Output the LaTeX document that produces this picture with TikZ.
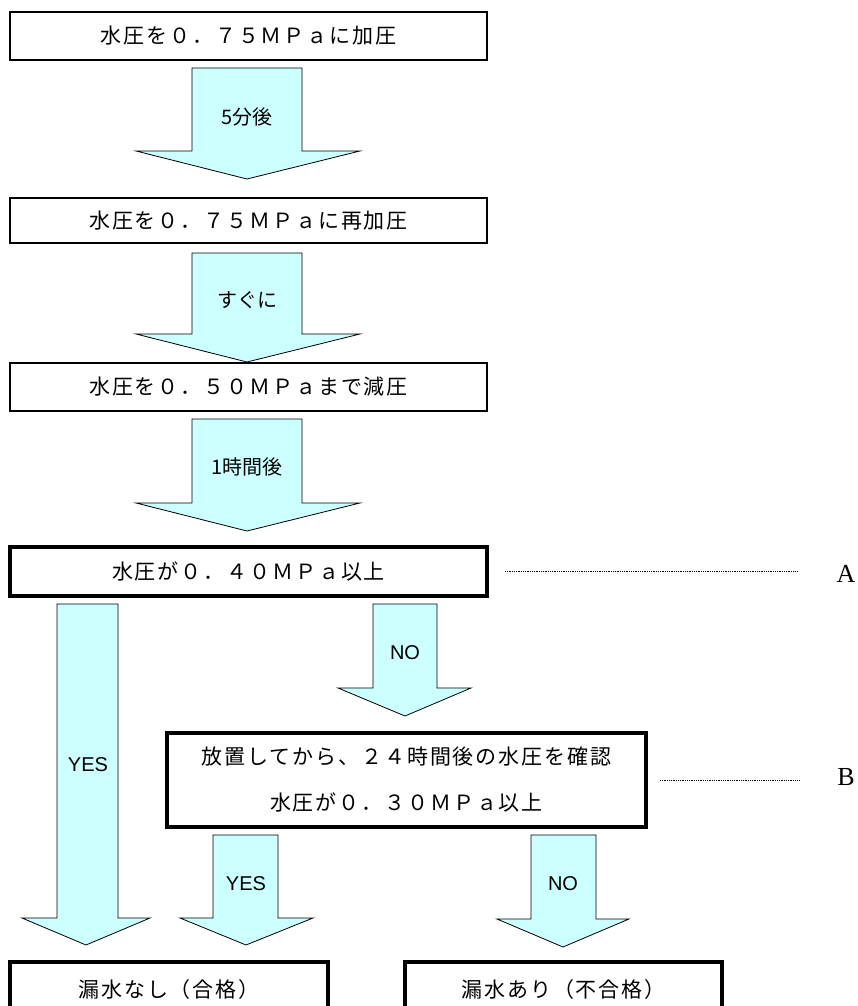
\documentclass[tikz,border=0pt]{standalone}
\usepackage{fontspec}
\newfontfamily\jpfont[LetterSpace=9]{Noto Sans CJK JP}
\newfontfamily\jplabel{Noto Sans CJK JP}
\newfontfamily\arialfont{Liberation Sans}
\newfontfamily\seriffont{Liberation Serif}
\definecolor{arrowfill}{HTML}{CCFFFF}

\begin{document}
\begin{tikzpicture}
        [x=1pt, y=-1pt,
        box/.style={draw, line width=1.5pt, fill=white, inner sep=0pt, font=\jpfont\fontsize{21}{22}\selectfont},
        bold box/.style={box, line width=4pt},
        blockarrow/.style={draw=black, line width=0.8pt, fill=arrowfill, line join=miter},
        arrowtext/.style={font=\jplabel\fontsize{20}{20}\selectfont},
        yesno/.style={font=\arialfont\fontsize{20}{20}\selectfont},
        leader/.style={densely dotted, line width=0.8pt},
        mark label/.style={font=\seriffont\fontsize{26}{26}\selectfont}]

        \clip (0,0) rectangle (858,1006);

        % steps
        \node[box, minimum width=477pt, minimum height=48pt] (press) at (248.5,36) {水圧を０．７５ＭＰａに加圧};
        \node[box, minimum width=477pt, minimum height=45pt] (repress) at (248.5,220.5) {水圧を０．７５ＭＰａに再加圧};
        \node[box, minimum width=477pt, minimum height=48pt] (reduce) at (248.5,387) {水圧を０．５０ＭＰａまで減圧};

        % checks
        \node[bold box, minimum width=477pt, minimum height=49pt] (checkA) at (248.5,571.5) {水圧が０．４０ＭＰａ以上};
        \node[bold box, minimum width=479pt, minimum height=94pt, align=center,
              font=\jpfont\fontsize{21}{46}\selectfont] (checkB) at (406.5,780)
              {放置してから、２４時間後の水圧を確認\\水圧が０．３０ＭＰａ以上};

        % results
        \node[bold box, minimum width=318pt, minimum height=56pt] (pass) at (169,990) {漏水なし（合格）};
        \node[bold box, minimum width=317pt, minimum height=56pt] (fail) at (563.5,990) {漏水あり（不合格）};

        % markers
        \node[mark label] (labA) at (846,574) {A};
        \node[mark label] (labB) at (846,777) {B};
        \draw[leader] ([xshift=16pt]checkA.east) -- ([xshift=-35pt]labA.west |- checkA.east);
        \draw[leader] ([xshift=12pt]checkB.east) -- ([xshift=-35pt]labB.west |- checkB.east);

        % block arrows
        \draw[blockarrow] (192,68) -- (302,68) -- (302,151) -- (360,151) -- (247,179) -- (136,151) -- (192,151) -- cycle;
        \draw[blockarrow] (192,253) -- (302,253) -- (302,334) -- (360,334) -- (247,362) -- (136,334) -- (192,334) -- cycle;
        \draw[blockarrow] (192,419) -- (302,419) -- (302,503) -- (360,503) -- (247,531) -- (136,503) -- (192,503) -- cycle;
        \draw[blockarrow] (57,604) -- (118,604) -- (118,918) -- (150,918) -- (86,945) -- (22,918) -- (57,918) -- cycle;
        \draw[blockarrow] (373,604) -- (437,604) -- (437,688) -- (471,688) -- (405,716) -- (338,688) -- (373,688) -- cycle;
        \draw[blockarrow] (213,835) -- (278,835) -- (278,918) -- (313,918) -- (246,945) -- (180,918) -- (213,918) -- cycle;
        \draw[blockarrow] (531,835) -- (596,835) -- (596,919) -- (629,919) -- (563,947) -- (497,919) -- (531,919) -- cycle;

        % arrow labels
        \node[arrowtext] (wait5) at (247,117) {5分後};
        \node[arrowtext] (atonce) at (247,300) {すぐに};
        \node[arrowtext] (wait1h) at (247,467) {1時間後};
        \node[yesno] (yesA) at (88,765) {YES};
        \node[yesno] (noA) at (405,653) {NO};
        \node[yesno] (yesB) at (246,884) {YES};
        \node[yesno] (noB) at (563,884) {NO};

        \end{tikzpicture}
\end{document}
